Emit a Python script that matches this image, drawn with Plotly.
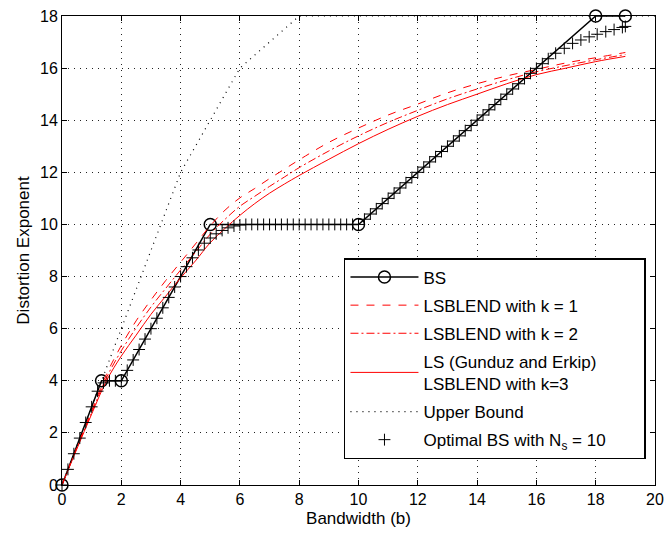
import plotly.graph_objects as go

# ---- data ----
bs_x = [0, 4/3, 2, 5, 10, 18, 19]
bs_y = [0, 4, 4, 10, 10, 18, 18]

red_x = [0, 0.5, 1, 1.5, 2, 2.5, 3, 3.5, 4, 4.5, 5, 5.5, 6, 6.5, 7, 7.5, 8,
         9, 10, 11, 12, 13, 14, 15, 16, 17, 18, 19]
k1_y = [0, 1.45, 2.85, 4.25, 5.35, 6.3, 7.1, 7.85, 8.55, 9.25, 9.95, 10.55,
        11.02, 11.38, 11.76, 12.12, 12.48, 13.15, 13.7, 14.2, 14.62, 15.05,
        15.4, 15.7, 15.95, 16.2, 16.4, 16.6]
k2_y = [0, 1.42, 2.78, 4.12, 5.15, 6.03, 6.83, 7.55, 8.25, 8.93, 9.63, 10.2,
        10.7, 11.08, 11.46, 11.82, 12.18, 12.82, 13.4, 13.92, 14.38, 14.82,
        15.2, 15.55, 15.86, 16.1, 16.32, 16.52]
k3_y = [0, 1.38, 2.72, 4.0, 4.95, 5.75, 6.55, 7.25, 7.95, 8.6, 9.3, 9.85,
        10.35, 10.8, 11.2, 11.55, 11.88, 12.5, 13.1, 13.65, 14.15, 14.6,
        15.0, 15.4, 15.75, 16.0, 16.25, 16.45]

ub_x = [0, 4, 6, 8, 20]
ub_y = [0, 12, 16, 18, 18]

opt_x = [0.0, 0.2, 0.4, 0.6, 0.8, 1.0, 1.2, 1.4, 1.6, 1.8, 2.0,
         2.2, 2.4, 2.6, 2.8, 3.0, 3.2, 3.4, 3.6, 3.8, 4.0,
         4.2, 4.4, 4.6, 4.8, 5.0, 5.2, 5.4, 5.6, 5.8, 6.0,
         6.2, 6.4, 6.6, 6.8, 7.0, 7.2, 7.4, 7.6, 7.8, 8.0,
         8.2, 8.4, 8.6, 8.8, 9.0, 9.2, 9.4, 9.6, 9.8, 10.0,
         10.2, 10.4, 10.6, 10.8, 11.0, 11.2, 11.4, 11.6, 11.8, 12.0,
         12.2, 12.4, 12.6, 12.8, 13.0, 13.2, 13.4, 13.6, 13.8, 14.0,
         14.2, 14.4, 14.6, 14.8, 15.0, 15.2, 15.4, 15.6, 15.8, 16.0,
         16.2, 16.4, 16.65, 16.94, 17.22, 17.5, 17.78, 18.05, 18.34, 18.62,
         18.9, 19.0]
opt_y = [0.0, 0.6, 1.2, 1.8, 2.4, 3.0, 3.6, 3.92, 4.0, 4.0, 4.0,
         4.4, 4.8, 5.2, 5.6, 6.0, 6.4, 6.8, 7.2, 7.6, 8.0,
         8.38, 8.72, 9.02, 9.28, 9.48, 9.64, 9.77, 9.87, 9.94, 9.98,
         10.0, 10.0, 10.0, 10.0, 10.0, 10.0, 10.0, 10.0, 10.0, 10.0,
         10.0, 10.0, 10.0, 10.0, 10.0, 10.0, 10.0, 10.0, 10.0, 10.0,
         10.2, 10.4, 10.6, 10.8, 11.0, 11.2, 11.4, 11.6, 11.8, 12.0,
         12.2, 12.4, 12.6, 12.8, 13.0, 13.2, 13.4, 13.6, 13.8, 14.0,
         14.2, 14.4, 14.6, 14.8, 15.0, 15.2, 15.4, 15.6, 15.8, 15.99,
         16.17, 16.36, 16.57, 16.76, 16.95, 17.08, 17.2, 17.3, 17.4, 17.48,
         17.56, 17.6]

x_ticks = list(range(0, 21, 2))
y_ticks = list(range(0, 19, 2))

FONT = "Liberation Sans, Arial, sans-serif"
PAD = "\u00a0" * 7  # right padding of the legend box

fig = go.Figure()
fig.add_trace(go.Scatter(x=bs_x, y=bs_y, mode="lines+markers", name="BS",
                         line=dict(color="black", width=1.5),
                         marker=dict(symbol="circle-open", size=12,
                                     color="black", line=dict(width=1.5)),
                         cliponaxis=False, legendgroup="a"))
fig.add_trace(go.Scatter(x=red_x, y=k1_y, mode="lines",
                         name="LSBLEND with k = 1",
                         line=dict(color="red", width=1, dash="8px,8px"),
                         line_shape="spline", legendgroup="b"))
fig.add_trace(go.Scatter(x=red_x, y=k2_y, mode="lines",
                         name="LSBLEND with k = 2",
                         line=dict(color="red", width=1,
                                   dash="8px,3px,2px,3px"),
                         line_shape="spline", legendgroup="c"))
fig.add_trace(go.Scatter(x=red_x, y=k3_y, mode="lines",
                         name="LS (Gunduz and Erkip)<br>LSBLEND with k=3",
                         line=dict(color="red", width=1),
                         line_shape="spline", legendgroup="d"))
fig.add_trace(go.Scatter(x=ub_x, y=ub_y, mode="lines", name="Upper Bound",
                         line=dict(color="black", width=1.2, dash="1px,5px"),
                         legendgroup="e"))
fig.add_trace(go.Scatter(x=opt_x, y=opt_y, mode="markers",
                         name="Optimal BS with N<sub>s</sub> = 10" + PAD,
                         marker=dict(symbol="cross-thin", size=8.5,
                                     color="black",
                                     line=dict(width=1, color="black")),
                         cliponaxis=False, legendgroup="f"))

axis_common = dict(showline=True, linecolor="black", linewidth=1,
                   mirror="ticks", ticks="inside", ticklen=5,
                   tickcolor="black", showgrid=True, gridcolor="#222222",
                   griddash="1px,5px", gridwidth=1, zeroline=False,
                   automargin=False,
                   tickfont=dict(family=FONT, size=16, color="black"))

fig.update_xaxes(range=[0, 20], tickvals=x_ticks,
                 title=dict(text="Bandwidth (b)", standoff=4,
                            font=dict(family=FONT, size=17, color="black")),
                 **axis_common)
fig.update_yaxes(range=[0, 18], tickvals=y_ticks,
                 title=dict(text="Distortion Exponent", standoff=6,
                            font=dict(family=FONT, size=17, color="black")),
                 **axis_common)

fig.update_layout(
    width=668, height=533,
    margin=dict(l=62, r=13, t=16, b=48),
    paper_bgcolor="white", plot_bgcolor="white",
    font=dict(family=FONT, size=17, color="black"),
    showlegend=True,
    legend=dict(x=0.4755, y=0.484, xanchor="left", yanchor="top",
                bgcolor="white", bordercolor="black", borderwidth=1.5,
                font=dict(family=FONT, size=17, color="black"),
                traceorder="grouped", tracegroupgap=3, itemwidth=68),
)

fig.write_html("out.html")
